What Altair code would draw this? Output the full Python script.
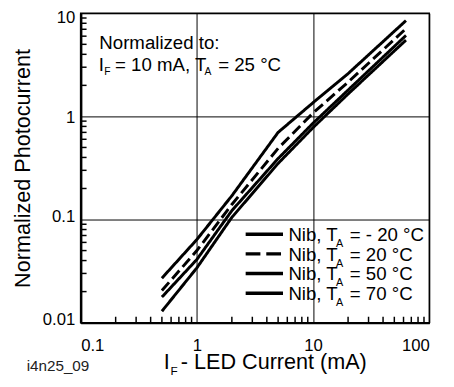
import altair as alt
import pandas as pd

# ---- data ----
current_mA = [0.5, 1, 2, 5, 10, 20, 63]
temps = ["- 20 °C", "20 °C", "50 °C", "70 °C"]
pc_m20 = [0.027, 0.064, 0.17, 0.70, 1.36, 2.6, 8.5]
pc_20 = [0.0205, 0.05, 0.14, 0.49, 1.08, 2.15, 7.1]
pc_50 = [0.0177, 0.041, 0.122, 0.39, 0.86, 1.8, 6.1]
pc_70 = [0.0129, 0.034, 0.105, 0.35, 0.78, 1.65, 5.5]

x_major = [0.1, 1, 10, 100]
y_major = [0.01, 0.1, 1, 10]
x_minor = [0.2, 0.3, 0.4, 0.5, 0.6, 0.7, 0.8, 0.9,
           2, 3, 4, 5, 6, 7, 8, 9,
           20, 30, 40, 50, 60, 70, 80, 90]
y_minor = [0.02, 0.03, 0.04, 0.05, 0.06, 0.07, 0.08, 0.09,
           0.2, 0.3, 0.4, 0.5, 0.6, 0.7, 0.8, 0.9,
           2, 3, 4, 5, 6, 7, 8, 9]

FONT = "Liberation Sans"
W, H = 355, 315

rows = []
for name, vals in zip(temps, [pc_m20, pc_20, pc_50, pc_70]):
    for xv, yv in zip(current_mA, vals):
        rows.append({"I": xv, "P": yv, "series": name})
df = pd.DataFrame(rows)

xscale = alt.Scale(type="log", domain=[0.1, 100], nice=False)
yscale = alt.Scale(type="log", domain=[0.01, 10], nice=False)

xaxis = alt.Axis(values=x_major, format="~g", title=None, grid=True,
                 ticks=False, tickSize=0, labelPadding=15,
                 labelFontSize=17, labelFont=FONT, labelColor="black",
                 domainWidth=2.5, domainColor="black",
                 gridColor="black", gridWidth=1, gridOpacity=1)
yaxis = alt.Axis(values=y_major, format="~g", title="Normalized Photocurrent",
                 grid=True, ticks=False, tickSize=0, labelPadding=6,
                 labelOffset={"condition": [{"test": "datum.value >= 10", "value": 4},
                                            {"test": "datum.value >= 1", "value": 1}],
                              "value": -3},
                 labelFontSize=17, labelFont=FONT, labelColor="black",
                 domainWidth=2.5, domainColor="black",
                 gridColor="black", gridWidth=1, gridOpacity=1,
                 titleFont=FONT, titleFontSize=22, titleFontWeight="normal",
                 titleColor="black", titleAngle=270, titleX=-59, titleY=H / 2,
                 titleAlign="center", titleBaseline="middle")

lines = alt.Chart(df).mark_line(color="black", strokeCap="butt").encode(
    x=alt.X("I:Q", scale=xscale, axis=xaxis),
    y=alt.Y("P:Q", scale=yscale, axis=yaxis),
    detail="series:N",
    strokeDash=alt.StrokeDash("series:N",
                              scale=alt.Scale(domain=temps, range=[[1, 0], [11, 5], [1, 0], [1, 0]]),
                              legend=None),
    strokeWidth=alt.StrokeWidth("series:N",
                                scale=alt.Scale(domain=temps, range=[3, 3, 2.5, 2.5]),
                                legend=None),
)

# inward minor ticks
xm = alt.Chart(pd.DataFrame({"I": x_minor})).mark_tick(
    color="black", thickness=1.5, size=6, orient="vertical", opacity=1
).encode(x=alt.X("I:Q", scale=xscale, axis=xaxis), y=alt.value(H - 3))
# y minor ticks use their own (identical) log scale, without an axis
ym = alt.Chart(pd.DataFrame({"v": y_minor})).mark_rule(
    color="black", strokeWidth=1.5
).encode(y=alt.Y("v:Q", scale=alt.Scale(type="log", domain=[0.01, 10], nice=False), axis=None),
         x=alt.value(0), x2=alt.value(6))


def txt(s, x, y, size, color="black"):
    return alt.Chart(pd.DataFrame({"t": [s]})).mark_text(
        align="left", baseline="alphabetic", font=FONT, fontSize=size, color=color
    ).encode(text="t:N", x=alt.value(x), y=alt.value(y))


layers = [lines, xm, ym]

# annotation
layers += [
    txt("Normalized to:", 19, 36.7, 19),
    txt("I", 18.5, 58.3, 19),
    txt("F", 24, 62.7, 10.5),
    txt("= 10 mA, T", 35, 58.3, 19),
    txt("A", 126, 62.7, 10.5),
    txt("= 25 °C", 140, 58.3, 19),
]

# legend
dashes = [[1, 0], [15, 6], [1, 0], [1, 0]]
for i, t in enumerate(temps):
    yb = 232 + 20 * i
    ys = 225 + 20 * i
    layers.append(
        alt.Chart(pd.DataFrame({"s": [t]})).mark_rule(
            color="black", strokeWidth=3.5, strokeDash=dashes[i], strokeCap="butt"
        ).encode(x=alt.value(168), x2=alt.value(206), y=alt.value(ys))
    )
    layers += [
        txt("Nib, T", 211.5, yb, 19),
        txt("A", 260, yb + 6, 11),
        txt("= " + t, 274, yb, 19),
    ]

# x-axis title and figure id
layers += [
    txt("I", 84.5, 362.5, 22),
    txt("F", 91.5, 368.5, 12),
    txt("- LED Current (mA)", 102, 362.5, 22),
    txt("i4n25_09", -55, 364, 15.5, "#222"),
]

chart = alt.layer(*layers).resolve_scale(y="independent").properties(
    width=W, height=H,
    autosize=alt.AutoSizeParams(type="none"),
    padding={"left": 74, "top": 2, "right": 17, "bottom": 54},
).configure_view(stroke="black", strokeWidth=1.5)

chart.save("out.html", embed_options={"renderer": "svg", "actions": False})
